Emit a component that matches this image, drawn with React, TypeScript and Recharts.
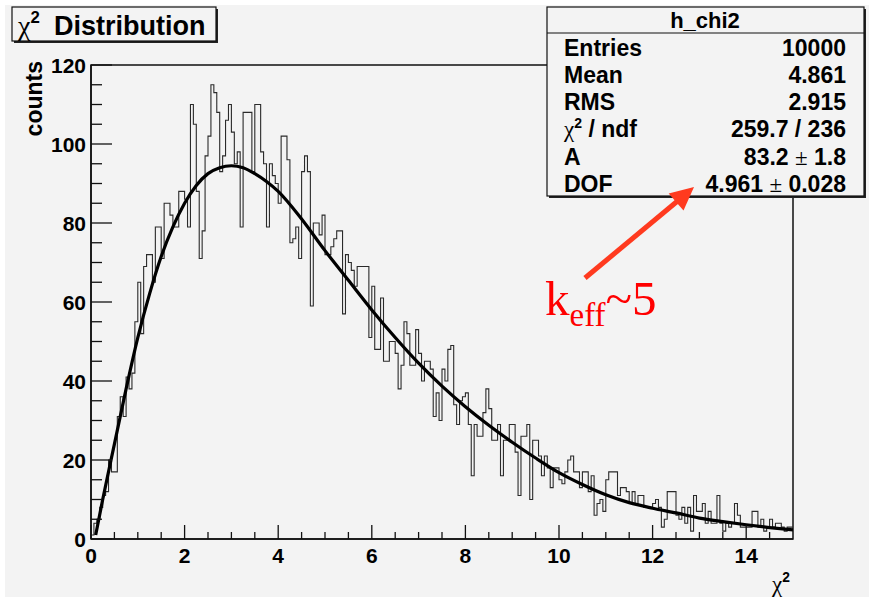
import { ComposedChart, Line, XAxis, YAxis, ReferenceArea } from 'recharts'

const BIN_WIDTH = 0.0625 // 240 bins from 0 to 15

// bin contents, 20 bins per row
const binCounts = [
    1, 4, 5, 8, 11, 12, 20, 17, 17, 31, 36, 31, 41, 38, 42, 55, 65, 52, 69, 72,
    72, 65, 79, 79, 71, 85, 85, 82, 79, 79, 88, 88, 86, 79, 110, 105, 88, 71, 78, 97,
    102, 115, 113, 108, 93, 97, 106, 110, 103, 95, 98, 79, 108, 108, 108, 93, 110, 110, 98, 95,
    79, 95, 92, 90, 85, 102, 102, 96, 75, 76, 79, 71, 93, 97, 93, 59, 80, 80, 77, 82,
    72, 72, 74, 76, 78, 78, 57, 72, 70, 68, 64, 69, 69, 69, 69, 51, 64, 48, 48, 61,
    45, 45, 50, 50, 47, 38, 44, 55, 52, 44, 44, 53, 47, 40, 45, 45, 43, 31, 37, 30,
    43, 40, 48, 49, 34, 29, 35, 36, 37, 29, 16, 29, 26, 26, 32, 38, 33, 25, 25, 29,
    16, 25, 25, 29, 29, 22, 11, 26, 26, 29, 10, 25, 25, 21, 16, 21, 18, 13, 18, 18,
    15, 14, 17, 20, 21, 17, 17, 13, 17, 17, 12, 16, 6, 9, 10, 7, 15, 17, 17, 17,
    11, 13, 13, 12, 9, 12, 9, 11, 11, 8, 8, 8, 9, 10, 8, 3, 5, 12, 12, 12,
    6, 5, 8, 4, 8, 2, 11, 7, 7, 9, 4, 7, 4, 4, 11, 4, 2, 4, 3, 4,
    9, 6, 3, 3, 3, 3, 7, 7, 3, 5, 2, 3, 5, 3, 4, 4, 3, 2, 3, 3,
]

// fitted chi2 curve, sampled by eye
const fitX = [0.1, 0.25, 0.5, 0.75, 1, 1.25, 1.5, 1.75, 2, 2.25, 2.5, 2.75, 3, 3.25, 3.5, 3.75, 4, 4.5, 5, 5.5, 6, 6.5, 7, 7.5, 8, 8.5, 9, 9.5, 10, 10.5, 11, 11.5, 12, 12.5, 13, 13.5, 14, 14.5, 15]
const fitY = [1, 10, 24, 38, 51, 62, 71.5, 79, 85, 89.5, 92.5, 94, 94.5, 94, 92.5, 90.5, 88, 81, 73, 65.5, 58, 51, 44.5, 38.7, 33.5, 28.8, 24.5, 20.5, 16.8, 13.8, 11.2, 9.2, 7.8, 6.6, 5.3, 4.4, 3.6, 2.9, 2.3]

const xTicks = [0, 0.5, 1, 1.5, 2, 2.5, 3, 3.5, 4, 4.5, 5, 5.5, 6, 6.5, 7, 7.5, 8, 8.5, 9, 9.5, 10, 10.5, 11, 11.5, 12, 12.5, 13, 13.5, 14, 14.5]
const xLabels = [0, 2, 4, 6, 8, 10, 12, 14]
const yTicks = [0, 5, 10, 15, 20, 25, 30, 35, 40, 45, 50, 55, 60, 65, 70, 75, 80, 85, 90, 95, 100, 105, 110, 115, 120]
const yLabels = [0, 20, 40, 60, 80, 100, 120]

const statsRows = [
    ['Entries', '10000'],
    ['Mean', '4.861'],
    ['RMS', '2.915'],
    ['χ2 / ndf', '259.7 / 236'],
    ['A', '83.2 ± 1.8'],
    ['DOF', '4.961 ± 0.028'],
]

const histData = binCounts.map((c, i) => ({ x: i * BIN_WIDTH, y: c }))
histData.push({ x: 15, y: binCounts[binCounts.length - 1] })
const fitData = fitX.map((x, i) => ({ x, y: fitY[i] }))

const SANS = '"Liberation Sans", Arial, Helvetica, sans-serif'
const SERIF = '"Liberation Serif", "Times New Roman", serif'
const BG = '#f3f3f3'

function XTick(props: any) {
    const { x, y, payload } = props
    const major = xLabels.includes(payload.value)
    return (
        <g>
            <line x1={x} x2={x} y1={y} y2={y - (major ? 14 : 7)} stroke="#111" strokeWidth={1.3} />
            {major && (
                <text x={x} y={y + 24} textAnchor="middle" fontFamily={SANS} fontWeight="bold" fontSize={21} fill="#000">
                    {payload.value}
                </text>
            )}
        </g>
    )
}

function YTick(props: any) {
    const { x, y, payload } = props
    const major = yLabels.includes(payload.value)
    return (
        <g>
            <line x1={x} x2={x + (major ? 21 : 11)} y1={y} y2={y} stroke="#111" strokeWidth={1.3} />
            {major && (
                <text x={x - 5} y={y + 7.5} textAnchor="end" fontFamily={SANS} fontWeight="bold" fontSize={21} fill="#000">
                    {payload.value}
                </text>
            )}
        </g>
    )
}

// "χ2" style label: greek chi in serif, small bold superscript
function Chi(props: { x: number; y: number; size: number }) {
    const { x, y, size } = props
    return (
        <text x={x} y={y} fill="#000">
            <tspan fontFamily={SERIF} fontSize={size}>χ</tspan>
            <tspan fontFamily={SANS} fontWeight="bold" fontSize={size * 0.6} dy={-size * 0.42}>2</tspan>
        </text>
    )
}

function Overlay() {
    const rowY = [56, 83, 110, 137, 165, 192]
    return (
        <svg width={869} height={597} style={{ position: 'absolute', left: 0, top: 0 }}>
            {/* title box */}
            <rect x={14} y={9} width={204} height={34} fill="#222" />
            <rect x={12} y={7} width={204} height={34} fill={BG} stroke="#111" strokeWidth={1.2} />
            <Chi x={18} y={35} size={28} />
            <text x={54} y={35} fontFamily={SANS} fontWeight="bold" fontSize={27} fill="#000">Distribution</text>

            {/* stats box */}
            <rect x={549} y={9} width={317} height={189} fill="#222" />
            <rect x={547} y={7} width={317} height={189} fill={BG} stroke="#111" strokeWidth={1.2} />
            <line x1={547} x2={864} y1={33} y2={33} stroke="#111" strokeWidth={1.2} />
            <text x={705} y={28} textAnchor="middle" fontFamily={SANS} fontWeight="bold" fontSize={22} fill="#000">h_chi2</text>
            {statsRows.map((r, i) => (
                <g key={r[0]}>
                    {r[0].startsWith('χ') ? (
                        <text x={564} y={rowY[i]} fill="#000">
                            <tspan fontFamily={SERIF} fontSize={23}>χ</tspan>
                            <tspan fontFamily={SANS} fontWeight="bold" fontSize={14} dy={-9}>2</tspan>
                            <tspan fontFamily={SANS} fontWeight="bold" fontSize={23} dy={9}> / ndf</tspan>
                        </text>
                    ) : (
                        <text x={564} y={rowY[i]} fontFamily={SANS} fontWeight="bold" fontSize={23} fill="#000">{r[0]}</text>
                    )}
                    <text x={846} y={rowY[i]} textAnchor="end" fontFamily={SANS} fontWeight="bold" fontSize={23} fill="#000">
                        {r[1].split('±').map((part, j) =>
                            j === 0 ? (
                                <tspan key={j}>{part}</tspan>
                            ) : (
                                <tspan key={j}>
                                    <tspan fontFamily={SERIF} fontWeight="normal">±</tspan>
                                    {part}
                                </tspan>
                            )
                        )}
                    </text>
                </g>
            ))}

            {/* axis titles */}
            <text transform="translate(42,61) rotate(-90)" textAnchor="end" fontFamily={SANS} fontWeight="bold" fontSize={23} fill="#000">counts</text>
            <Chi x={772} y={592} size={23} />

            {/* annotation */}
            <line x1={585} y1={278} x2={680} y2={199} stroke="#ff3a1f" strokeWidth={5} />
            <polygon points="694,187 683.5,210.5 668.7,193.4" fill="#ff3a1f" />
            <text x={545} y={315} fontFamily={SERIF} fontSize={49} fill="#ff0000">
                k<tspan fontSize={33} dy={11}>eff</tspan>
                <tspan fontSize={49} dy={-11}>~5</tspan>
            </text>
        </svg>
    )
}

export default function App() {
    return (
        <div style={{ position: 'absolute', left: 0, top: 0, width: 869, height: 597, background: '#fff', overflow: 'hidden' }}>
            <div style={{ position: 'absolute', left: 5, top: 5, width: 864, height: 592, background: BG }} />
            <div style={{ position: 'absolute', left: 0, top: 0 }}>
                <ComposedChart width={869} height={597} margin={{ top: 65, right: 76, bottom: 0, left: 0 }}>
                    <XAxis
                        dataKey="x"
                        type="number"
                        domain={[0, 15]}
                        ticks={xTicks}
                        interval={0}
                        tick={<XTick />}
                        tickLine={false}
                        tickSize={0}
                        tickMargin={0}
                        height={58}
                        axisLine={{ stroke: '#111', strokeWidth: 1.5 }}
                        allowDataOverflow
                    />
                    <YAxis
                        type="number"
                        domain={[0, 120]}
                        ticks={yTicks}
                        interval={0}
                        tick={<YTick />}
                        tickLine={false}
                        tickSize={0}
                        tickMargin={0}
                        width={91}
                        axisLine={{ stroke: '#111', strokeWidth: 1.5 }}
                        allowDataOverflow
                    />
                    <ReferenceArea x1={0} x2={15} y1={0} y2={120} fill="none" stroke="#111" strokeWidth={1.5} />
                    <Line
                        data={histData}
                        dataKey="y"
                        type="stepAfter"
                        stroke="#2a2a2a"
                        strokeWidth={1.1}
                        dot={false}
                        isAnimationActive={false}
                    />
                    <Line
                        data={fitData}
                        dataKey="y"
                        type="monotone"
                        stroke="#000"
                        strokeWidth={3.2}
                        dot={false}
                        isAnimationActive={false}
                    />
                </ComposedChart>
            </div>
            <Overlay />
        </div>
    )
}
